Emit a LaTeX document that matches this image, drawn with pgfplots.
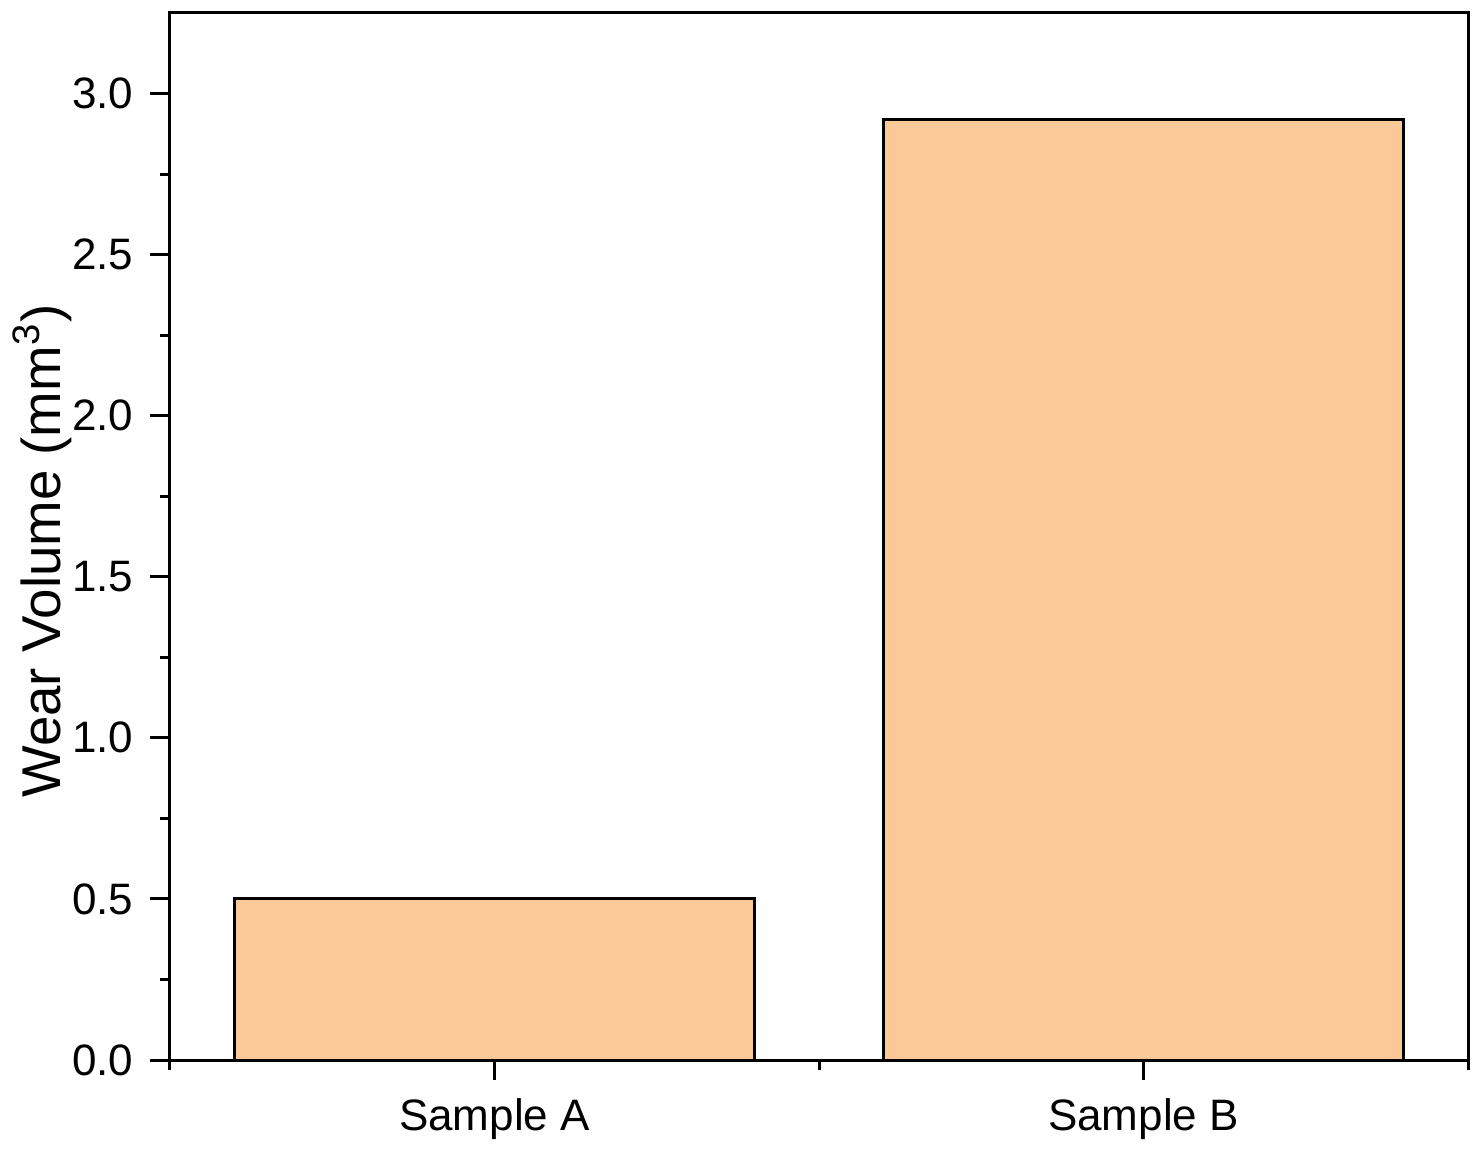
\documentclass[border=0pt]{standalone}
\usepackage{pgfplots}
\pgfplotsset{compat=1.18}
\usepackage{fontspec}
\setmainfont{Liberation Sans}
\definecolor{barfill}{RGB}{251,200,152}
\begin{document}
\begin{tikzpicture}
\begin{axis}[
  width=389.4pt, height=314.1pt, scale only axis,
  clip=false,
  xmin=-0.5, xmax=1.5, ymin=0, ymax=3.25,
  xtick={0,1}, xticklabels={Sample A, Sample B},
  minor xtick={-0.5,0.5,1.5},
  ytick={0,0.5,1,1.5,2,2.5,3},
  minor y tick num=1,
  yticklabel style={xshift=-1.5pt, /pgf/number format/.cd, fixed, fixed zerofill, precision=1},
  /pgf/number format/assume math mode=true,
  tick align=outside, xtick pos=bottom, ytick pos=left,
  major tick length=6pt, minor tick length=3pt,
  every tick/.style={black, line width=0.9pt},
  axis line style={line width=0.9pt},
  tick label style={font=\fontsize{13.2}{15}\selectfont},
  ylabel={Wear Volume (mm\textsuperscript{3})},
  ylabel style={font=\fontsize{16.4}{19}\selectfont, at={(axis description cs:-0.0986,0.486)}, anchor=center},
  xticklabel style={yshift=-2pt},
  ybar, bar width=0.8,
]
\addplot[fill=barfill, draw=black, line width=0.9pt] coordinates {(0,0.5) (1,2.92)};
\path (rel axis cs:1,1) ++(3.9pt,3.9pt) coordinate (ne);
\path (rel axis cs:0,0) ++(-51pt,-24.6pt) coordinate (sw);
\end{axis}
\path (sw) rectangle (ne);
\end{tikzpicture}
\end{document}
